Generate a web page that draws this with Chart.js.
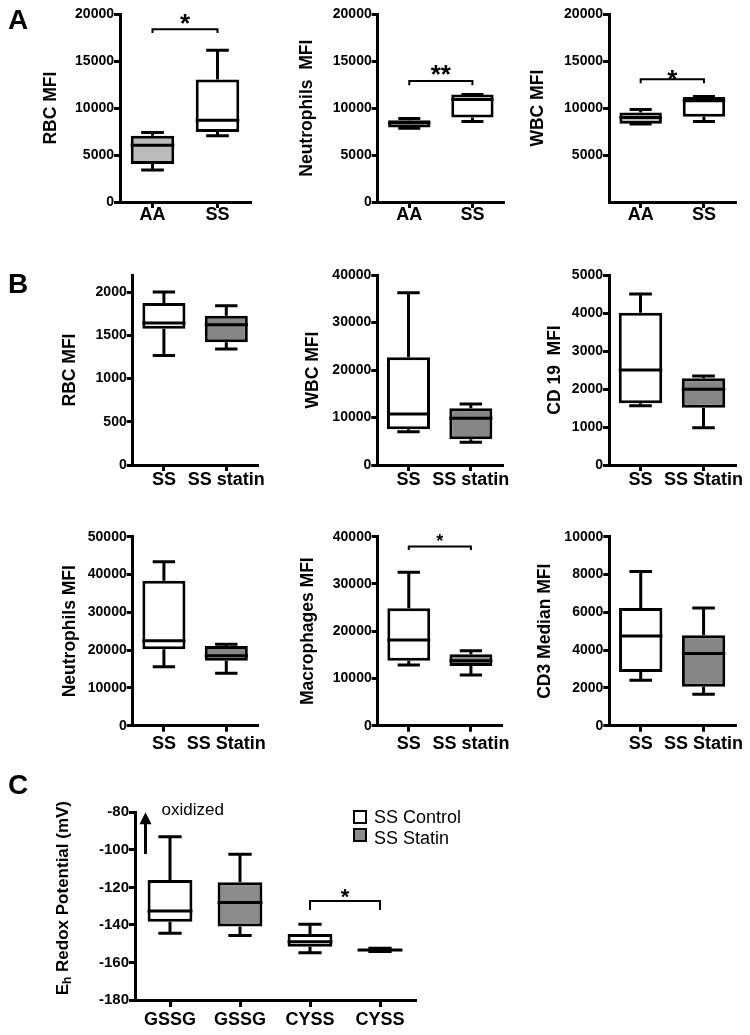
<!DOCTYPE html>
<html>
<head>
<meta charset="utf-8">
<script src="https://cdn.jsdelivr.net/npm/chart.js@4.4.0/dist/chart.umd.min.js"></script>
<style>
  html, body { margin: 0; padding: 0; background: #fff; }
  #fig { position: relative; width: 750px; height: 1035px; overflow: hidden; font-family: Arial, "Liberation Sans", Helvetica, sans-serif; }
  #fig canvas { position: absolute; left: 0; top: 0; }
  .panel { position: absolute; font-weight: bold; font-size: 28px; line-height: 28px; }
  .sw { position: absolute; width: 14px; height: 14px; box-sizing: border-box; border: 2.5px solid #000; }
  .lg { position: absolute; font-size: 18px; line-height: 18px; white-space: nowrap; }
</style>
</head>
<body>
<div id="fig">
  <canvas id="a1" width="750" height="1035"></canvas>
  <canvas id="a2" width="750" height="1035"></canvas>
  <canvas id="a3" width="750" height="1035"></canvas>
  <canvas id="b1" width="750" height="1035"></canvas>
  <canvas id="b2" width="750" height="1035"></canvas>
  <canvas id="b3" width="750" height="1035"></canvas>
  <canvas id="b4" width="750" height="1035"></canvas>
  <canvas id="b5" width="750" height="1035"></canvas>
  <canvas id="b6" width="750" height="1035"></canvas>
  <canvas id="c1" width="750" height="1035"></canvas>
  <div class="panel" style="left:8px;top:6px;">A</div>
  <div class="panel" style="left:8px;top:270px;">B</div>
  <div class="panel" style="left:8px;top:771px;">C</div>
  <div class="sw" style="left:353px;top:810px;background:#fff;"></div>
  <div class="lg" style="left:374px;top:808px;">SS Control</div>
  <div class="sw" style="left:353px;top:828px;background:#8c8c8c;"></div>
  <div class="lg" style="left:374px;top:829px;">SS Statin</div>
</div>
<script>
// box stats: [min, q1, median, q3, max]
const aLabels = ['AA', 'SS'];
const aRbc  = [[3400, 4050, 6050, 7050, 7400], [7050, 7450, 8720, 13050, 16170]];
const aNeut = [[7850, 7950, 8440, 8720, 8900], [8580, 9010, 10920, 11450, 11450]];
const aWbc  = [[8300, 8350, 9010, 9540, 9850], [8580, 9080, 10780, 11200, 11250]];

const bLabelsLow = ['SS', 'SS statin'];
const bLabelsCap = ['SS', 'SS Statin'];
const bRbc  = [[1269, 1578, 1644, 1876, 2004], [1342, 1420, 1625, 1729, 1845]];
const bWbc  = [[7018, 7509, 10737, 22667, 36280], [4772, 5404, 9825, 11930, 12842]];
const bCd19 = [[1561, 1623, 2500, 4009, 4500], [982, 1509, 1991, 2281, 2342]];
const bNeut = [[15608, 20194, 22487, 38360, 43386], [13845, 17196, 18518, 21076, 21517]];
const bMac  = [[12840, 13757, 18131, 24832, 32451], [10723, 12628, 13757, 15097, 15873]];
const bCd3  = [[2408, 2847, 4745, 6221, 8155], [1670, 2056, 3814, 4780, 6221]];
const bRbcTicks = [0, 500, 1000, 1500, 2000];

const cLabels = ['GSSG', 'GSSG', 'CYSS', 'CYSS'];
const cRedox = [[-144.5, -138.3, -132.6, -116.1, -93], [-145.7, -140.9, -128.1, -117.3, -102.4],
                [-154.8, -151.6, -148.9, -144.8, -139.7], [-154.2, -154, -153.4, -152.8, -152.4]];

// significance brackets: [from, to, line value, tick end value, label]
const aRbcSig  = [0, 1, 18400, 18000, '*'];
const aNeutSig = [0, 1, 12900, 12450, '**'];
const aWbcSig  = [0, 1, 13085, 12660, '*'];
const bMacSig  = [0, 1, 37900, 37200, '*'];
const cSig     = [2, 3, -127.3, -132, '*'];

// arrow [x index, from, to] and note [x index, y, text] in panel C
const cArrow = [-0.35, -102.2, -80];
const cNote  = [-0.12, -81.4, 'oxidized'];

const FONT = 'Arial, "Liberation Sans", Helvetica, sans-serif';
Chart.defaults.font.family = FONT;
Chart.defaults.color = '#000';

const white = '#ffffff';
const lightGray = '#bbbbbb';
const darkGray = '#868686';
const cGray = '#8c8c8c';

const boxPlugin = {
  id: 'boxWhiskers',
  beforeDatasetsDraw(chart) {
    const { ctx, scales: { y } } = chart;
    const meta = chart.getDatasetMeta(0);
    const stats = chart.data.datasets[0].stats;
    ctx.save();
    ctx.strokeStyle = '#000';
    ctx.lineWidth = 3;
    stats.forEach((s, i) => {
      const bar = meta.data[i];
      const cap = bar.width * 0.26;
      const lo = y.getPixelForValue(s[0]), q1 = y.getPixelForValue(s[1]);
      const q3 = y.getPixelForValue(s[3]), hi = y.getPixelForValue(s[4]);
      ctx.beginPath();
      ctx.moveTo(bar.x, q1); ctx.lineTo(bar.x, lo);
      ctx.moveTo(bar.x - cap, lo); ctx.lineTo(bar.x + cap, lo);
      ctx.moveTo(bar.x, q3); ctx.lineTo(bar.x, hi);
      ctx.moveTo(bar.x - cap, hi); ctx.lineTo(bar.x + cap, hi);
      ctx.stroke();
    });
    ctx.restore();
  },
  afterDatasetsDraw(chart, args, opts) {
    const { ctx, scales: { x, y } } = chart;
    const meta = chart.getDatasetMeta(0);
    const stats = chart.data.datasets[0].stats;
    ctx.save();
    ctx.strokeStyle = '#000';
    ctx.lineWidth = 3;
    stats.forEach((s, i) => {
      const bar = meta.data[i];
      const m = y.getPixelForValue(s[2]);
      ctx.beginPath();
      ctx.moveTo(bar.x - bar.width / 2, m);
      ctx.lineTo(bar.x + bar.width / 2, m);
      ctx.stroke();
    });
    const sig = opts && opts.sig;
    if (sig) {
      const x0 = x.getPixelForValue(sig[0]), x1 = x.getPixelForValue(sig[1]);
      const yl = y.getPixelForValue(sig[2]), yt = y.getPixelForValue(sig[3]);
      ctx.lineWidth = 2;
      ctx.beginPath();
      ctx.moveTo(x0, yt); ctx.lineTo(x0, yl); ctx.lineTo(x1, yl); ctx.lineTo(x1, yt);
      ctx.stroke();
      const size = opts.starSize || 24;
      ctx.fillStyle = '#000';
      ctx.font = 'bold ' + size + 'px ' + FONT;
      ctx.textAlign = 'center';
      ctx.textBaseline = 'alphabetic';
      ctx.fillText(sig[4], (x0 + x1) / 2, yl - (opts.starGap || 10) + 0.57 * size);
    }
    ctx.restore();
  }
};

const redoxExtras = {
  id: 'redoxExtras',
  afterDraw(chart) {
    const { ctx, scales: { x, y } } = chart;
    ctx.save();
    ctx.strokeStyle = '#000';
    ctx.fillStyle = '#000';
    ctx.lineWidth = 3;
    const ax = x.getPixelForValue(cArrow[0]);
    const y0 = y.getPixelForValue(cArrow[1]), y1 = y.getPixelForValue(cArrow[2]);
    ctx.beginPath(); ctx.moveTo(ax, y0); ctx.lineTo(ax, y1 + 10); ctx.stroke();
    ctx.beginPath(); ctx.moveTo(ax, y1); ctx.lineTo(ax - 6, y1 + 12); ctx.lineTo(ax + 6, y1 + 12); ctx.closePath(); ctx.fill();

    ctx.font = '17px ' + FONT;
    ctx.textAlign = 'left';
    ctx.textBaseline = 'alphabetic';
    ctx.fillText(cNote[2], x.getPixelForValue(cNote[0]), y.getPixelForValue(cNote[1]));

    // y title with subscript h
    const big = 'bold 17px ' + FONT, small = 'bold 12px ' + FONT;
    const rest = ' Redox Potential (mV)';
    ctx.font = big; const wE = ctx.measureText('E').width; const wR = ctx.measureText(rest).width;
    ctx.font = small; const wH = ctx.measureText('h').width;
    const total = wE + wH + wR;
    ctx.translate(63, (y.top + y.bottom) / 2 - 8);
    ctx.rotate(-Math.PI / 2);
    ctx.textBaseline = 'middle';
    let px = -total / 2;
    ctx.font = big; ctx.fillText('E', px, 0); px += wE;
    ctx.font = small; ctx.fillText('h', px, 5); px += wH;
    ctx.font = big; ctx.fillText(rest, px, 0);
    ctx.restore();
  }
};

function boxChart(id, cfg) {
  const yWidth = cfg.titleX ? cfg.left - cfg.titleX + 10.5 : 70;
  const xHeight = 45;
  new Chart(document.getElementById(id), {
    type: 'bar',
    data: {
      labels: cfg.labels,
      datasets: [{
        data: cfg.stats.map(s => [s[1], s[3]]),
        stats: cfg.stats,
        backgroundColor: cfg.fills,
        borderColor: '#000',
        borderWidth: 3,
        borderSkipped: false,
        barPercentage: cfg.barPct,
        categoryPercentage: 1
      }]
    },
    options: {
      responsive: false,
      animation: false,
      events: [],
      layout: {
        padding: { left: cfg.left - yWidth, top: cfg.top, right: 750 - cfg.right, bottom: 1035 - cfg.bottom - xHeight }
      },
      plugins: {
        legend: { display: false },
        tooltip: { enabled: false },
        boxWhiskers: { sig: cfg.sig, starSize: cfg.starSize, starGap: cfg.starGap }
      },
      scales: {
        x: {
          grid: { display: true, offset: false, drawOnChartArea: false, drawTicks: true, tickLength: cfg.xTick || 6, lineWidth: 3, color: '#000' },
          border: { display: true, color: '#000', width: 3 },
          ticks: { color: '#000', font: { size: 18, weight: 'bold' }, padding: cfg.xPad, maxRotation: 0, autoSkip: false },
          afterFit: s => { s.height = xHeight; }
        },
        y: {
          min: cfg.min,
          max: cfg.max,
          grid: {
            display: true, drawOnChartArea: false, drawTicks: true, tickLength: 6, lineWidth: 3,
            color: '#000',
            tickColor: c => (cfg.hideZero && c.tick && c.tick.value === 0) ? 'rgba(0,0,0,0)' : '#000'
          },
          border: { display: true, color: '#000', width: 3 },
          ticks: {
            stepSize: cfg.step,
            includeBounds: false,
            color: '#000',
            padding: 0,
            font: { size: cfg.yFont || 14, weight: 'bold' },
            callback: v => (cfg.hideZero && v === 0) ? '' : String(v)
          },
          afterBuildTicks: s => {
            if (cfg.tickValues) s.ticks = cfg.tickValues.map(v => ({ value: v }));
          },
          title: { display: !!cfg.title, text: cfg.title, color: '#000', font: { size: 17.5, weight: 'bold' }, padding: 0 },
          afterFit: s => { s.width = yWidth; }
        }
      }
    },
    plugins: [boxPlugin].concat(cfg.extra || [])
  });
}

const aStep = { min: 0, max: 20000, step: 5000, top: 14.3, bottom: 202, barPct: 0.67, xPad: -4 };
boxChart('a1', Object.assign({}, aStep, { labels: aLabels, stats: aRbc, fills: [lightGray, white], left: 120, right: 250, titleX: 51.5, title: 'RBC MFI', sig: aRbcSig, starSize: 26, starGap: 12 }));
boxChart('a2', Object.assign({}, aStep, { labels: aLabels, stats: aNeut, fills: [lightGray, white], left: 377.7, right: 504, titleX: 306.7, title: 'Neutrophils  MFI', sig: aNeutSig, starSize: 26, starGap: 12.7 }));
boxChart('a3', Object.assign({}, aStep, { labels: aLabels, stats: aWbc, fills: [lightGray, white], left: 609, right: 735.6, titleX: 537.8, title: 'WBC MFI', sig: aWbcSig, starSize: 26, starGap: 6.5, hideZero: true }));

const bRow1 = { top: 275, bottom: 465, barPct: 0.69, xPad: -1.3 };
const bRow2 = { top: 536.7, bottom: 725.7, barPct: 0.69, xPad: 2 };
boxChart('b1', Object.assign({}, bRow1, { labels: bLabelsLow, stats: bRbc, fills: [white, darkGray], min: 0, max: 2200, step: 500, tickValues: bRbcTicks, left: 132.7, right: 257.5, titleX: 69.7, title: 'RBC MFI' }));
boxChart('b2', Object.assign({}, bRow1, { labels: bLabelsLow, stats: bWbc, fills: [white, darkGray], min: 0, max: 40000, step: 10000, left: 377.3, right: 502, titleX: 313.3, title: 'WBC MFI' }));
boxChart('b3', Object.assign({}, bRow1, { labels: bLabelsCap, stats: bCd19, fills: [white, darkGray], min: 0, max: 5000, step: 1000, left: 609, right: 735, titleX: 555, title: 'CD 19  MFI' }));
boxChart('b4', Object.assign({}, bRow2, { labels: bLabelsCap, stats: bNeut, fills: [white, darkGray], min: 0, max: 50000, step: 10000, left: 132.7, right: 257.5, titleX: 70, title: 'Neutrophils MFI' }));
boxChart('b5', Object.assign({}, bRow2, { labels: bLabelsLow, stats: bMac, fills: [white, darkGray], min: 0, max: 40000, step: 10000, left: 377.7, right: 502, titleX: 308, title: 'Macrophages MFI', sig: bMacSig, starSize: 18, starGap: 10 }));
boxChart('b6', Object.assign({}, bRow2, { labels: bLabelsCap, stats: bCd3, fills: [white, darkGray], min: 0, max: 10000, step: 2000, left: 609.3, right: 735, titleX: 545, title: 'CD3 Median MFI' }));

boxChart('c1', { labels: cLabels, stats: cRedox, fills: [white, cGray, white, cGray], min: -180, max: -80, step: 20,
  top: 812.3, bottom: 1000, left: 135, right: 415, barPct: 0.64, xPad: 2, xTick: 7, yFont: 15,
  sig: cSig, starSize: 22, starGap: 9.3, extra: [redoxExtras] });
</script>
</body>
</html>
